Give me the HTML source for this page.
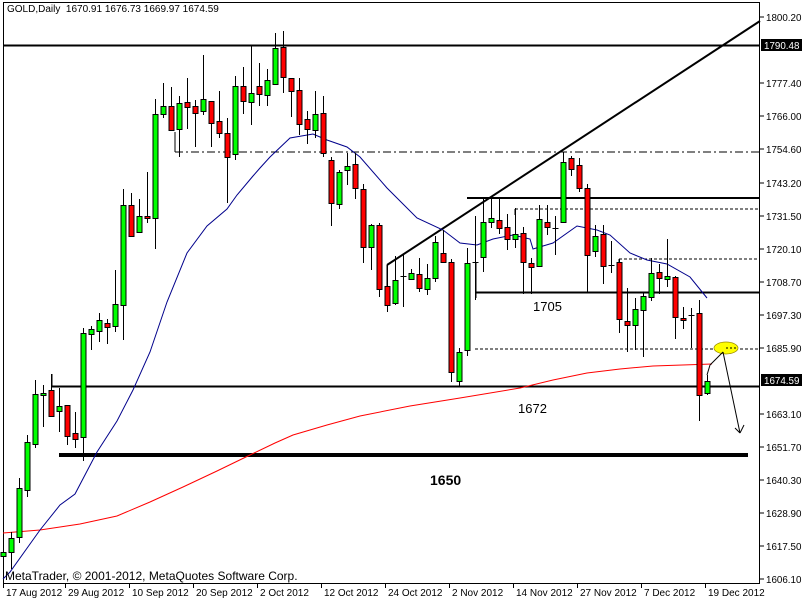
<!DOCTYPE html>
<html><head><meta charset="utf-8">
<style>
html,body{margin:0;padding:0;background:#fff;}
svg{display:block;font-family:"Liberation Sans",sans-serif;}
</style></head>
<body>
<svg id="c" width="802" height="600" xmlns="http://www.w3.org/2000/svg">
<rect x="0" y="0" width="802" height="600" fill="#fff"/>
<rect x="3.5" y="2.5" width="756" height="581" fill="none" stroke="#000" stroke-width="1"/>
<g id="g"></g>
</svg>
<script>
var S=1.148;
var d=[
[481,484,470,490,'g'],[469,481,463,496,'g'],[425,468,416,473,'g'],[385,427,379,433,'g'],[343,387,331,390,'g'],
[342,344,335,372,'g'],[340,362,326,362,'r'],[354,358,338,376,'g'],[353,380,353,388,'r'],[377,382,359,390,'r'],
[290,381,286,402,'g'],[287,291,284,305,'g'],[279,288,273,298,'g'],[281,285,278,300,'r'],[265,284,235,289,'g'],
[179,266,165,296,'g'],[179,206,168,206,'r'],[188,202,173,203,'g'],[188,190,150,194,'r'],[99,190,86,217,'g'],
[92,99,72,103,'g'],[92,113,76,113,'r'],[90,112,84,137,'g'],[89,93,68,112,'r'],[92,98,87,128,'r'],
[86,97,48,100,'g'],[88,107,88,128,'r'],[105,116,79,120,'r'],[116,137,103,177,'r'],[75,134,66,139,'g'],
[75,88,58,99,'r'],[81,89,39,109,'g'],[75,82,55,92,'r'],[70,83,60,92,'g'],[42,73,29,73,'g'],
[41,67,27,81,'r'],[68,79,68,102,'r'],[78,108,68,118,'r'],[104,112,97,125,'r'],[99,113,79,120,'g'],
[98,133,84,137,'r'],[139,177,137,197,'r'],[150,178,148,182,'g'],[145,148,133,161,'g'],[143,164,133,173,'r'],
[165,215,160,229,'r'],[196,215,195,235,'g'],[196,252,194,259,'r'],[249,266,231,272,'r'],[244,264,223,266,'g'],
[240,240,222,267,'d'],[238,243,234,244,'g'],[239,251,225,254,'r'],[242,252,230,257,'g'],[211,242,206,246,'g'],
[220,228,200,228,'r'],[228,324,226,333,'r'],[307,332,303,337,'g'],[229,305,216,310,'g'],[228,228,188,261,'d'],
[193,224,172,237,'g'],[190,193,172,199,'g'],[192,199,172,204,'r'],[198,208,186,218,'r'],[204,208,181,216,'g'],
[203,228,198,256,'r'],[229,233,225,256,'r'],[191,232,179,232,'g'],[193,198,179,205,'r'],[199,199,188,222,'d'],
[141,193,132,193,'g'],[138,147,136,153,'r'],[144,164,138,167,'r'],[164,222,160,255,'r'],[206,219,196,224,'g'],
[204,232,196,247,'r'],[231,231,210,238,'d'],[228,278,226,290,'r'],[280,283,251,307,'r'],[269,283,260,305,'g'],
[258,270,255,311,'g'],[238,259,225,262,'g'],[237,242,230,256,'r'],[240,243,208,250,'g'],[241,276,240,295,'r'],
[277,279,267,287,'r'],[274,274,268,303,'d'],[273,344,261,367,'r'],[332,342,327,344,'g']];
var h='';
function L(x1,y1,x2,y2,w,c,da){return '<line x1="'+x1+'" y1="'+y1+'" x2="'+x2+'" y2="'+y2+'" stroke="'+(c||'#000')+'" stroke-width="'+(w||1)+'"'+(da?' stroke-dasharray="'+da+'"':'')+'/>';}
function T(x,y,t,s,a,w,f){return '<text x="'+x+'" y="'+y+'" font-size="'+s+'"'+(a?' text-anchor="'+a+'"':'')+(w?' font-weight="bold"':'')+' fill="'+(f||'#000')+'">'+t+'</text>';}
var blue=[[3,579],[10,572],[40,530],[60,505],[75,494],[97,452],[117,421],[133,390],[150,352],[167,302],[187,253],[207,226],[227,209],[237,195],[253,176],[260,168],[270,157],[290,138],[313,134],[327,140],[347,147],[360,157],[387,188],[417,218],[443,230],[460,243],[477,245],[493,239],[513,235],[530,239],[533,249],[553,243],[577,226],[597,230],[610,235],[630,253],[647,260],[667,264],[690,277],[707,298]];
var red=[[3,533],[40,530],[80,524],[117,516],[150,502],[183,487],[217,471],[250,455],[275,443],[293,435],[327,425],[360,416],[410,406],[460,398],[520,388],[553,380],[587,373],[620,369],[653,366],[712,364]];
function P(a,c){return '<polyline fill="none" stroke="'+c+'" stroke-width="1" points="'+a.map(function(p){return p.join(',')}).join(' ')+'"/>';}
h+=L(3,45.5,760,45.5,2);
h+=L(175,152,760,152,1,'#000','8,3,2,3');
h+=L(175,132,175,152,1);
h+=L(52,386.5,760,386.5,2);
h+=L(52,374,52,386,1);
h+=L(59,455,748,455,4);
h+=L(467,198,760,198,2);
h+=L(515,209,760,209,1,'#000','3,2');
h+=L(515,209,515,215,1);
h+=L(476,292.5,760,292.5,2);
h+=L(476,262,476,298,1);
h+=L(619,259,760,259,1,'#000','3,2');
h+=L(619,259,619,263,1);
h+=L(475,349,760,349,1,'#000','3,2');
h+=L(387,265,760,21,2);
h+=L(387,265,387,290,1);
h+=P(red,'#f00');
h+=P(blue,'#00008b');
for(var k=0;k<d.length;k++){var c=d[k],x=3.5+8*k;
 var t=Math.round(c[0]*S),b=Math.round(c[1]*S),hi=Math.round(c[2]*S),lo=Math.round(c[3]*S);
 h+=L(x,hi,x,lo,1);
 if(c[4]=='d'||b-t<1){h+=L(x-3,t+0.5,x+3,t+0.5,1);}
 else h+='<rect x="'+(x-2.5)+'" y="'+(t+0.5)+'" width="5" height="'+(b-t)+'" fill="'+(c[4]=='g'?'#0f0':'#f00')+'" stroke="#000" stroke-width="1"/>';
}
h+=T(533,311,'1705',13);
h+=T(518,413,'1672',13);
h+=T(430,485,'1650',14,null,1);
h+='<ellipse cx="726" cy="348" rx="12" ry="6" fill="#ff0" stroke="#998800" stroke-width="0.7"/>';
h+=L(726,348,736,348,1,'#000','2,2');
h+=L(707,375,710,365,1)+L(710,365,723,352,1);
h+=L(723,352,740,433,1)+L(740,433,735,428,1)+L(740,433,744,425,1);
var pl=[['1800.20',17],['1777.40',83],['1766.00',116],['1754.60',149],['1743.20',183],['1731.50',216],['1720.10',249],['1708.70',282],['1697.30',315],['1685.90',348],['1663.10',414],['1651.70',447],['1640.30',480],['1628.90',513],['1617.50',546],['1606.10',579]];
pl.forEach(function(p){h+=L(760,p[1],764,p[1],1)+T(766,p[1]+4,p[0],9.8);});
h+='<rect x="761" y="39" width="41" height="12" fill="#000"/>'+T(764,49,'1790.48',9.8,null,0,'#fff');
h+='<rect x="761" y="374" width="41" height="12" fill="#000"/>'+T(764,384,'1674.59',9.8,null,0,'#fff');
var dl=[['17 Aug 2012',4],['29 Aug 2012',66],['10 Sep 2012',130],['20 Sep 2012',194],['2 Oct 2012',258],['12 Oct 2012',322],['24 Oct 2012',386],['2 Nov 2012',450],['14 Nov 2012',514],['27 Nov 2012',578],['7 Dec 2012',642],['19 Dec 2012',706]];
dl.forEach(function(p){h+=L(p[1]-0.5,584,p[1]-0.5,588,1)+T(p[1]+2,596,p[0],10);});
h+=T(7,12,'GOLD,Daily&#160;&#160;1670.91 1676.73 1669.97 1674.59',10);
h+=T(5,580,'MetaTrader, © 2001-2012, MetaQuotes Software Corp.',12);
document.getElementById('g').innerHTML=h;
</script>
</body></html>
